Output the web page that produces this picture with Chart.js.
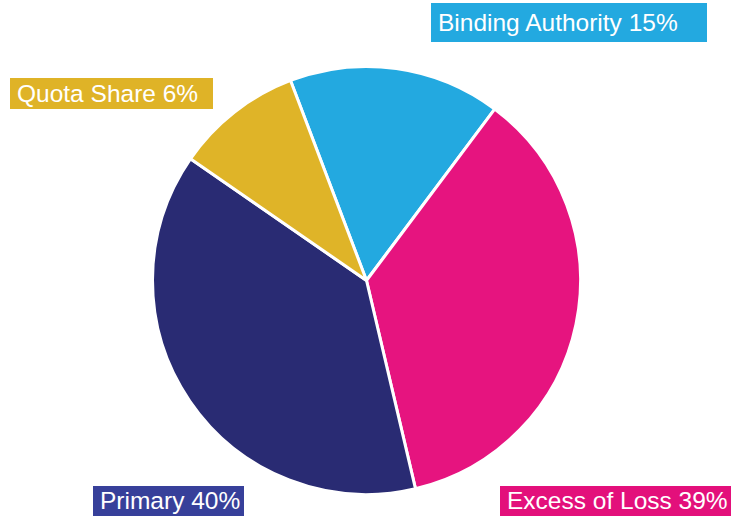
<!DOCTYPE html>
<html>
<head>
<meta charset="utf-8">
<script src="https://cdn.jsdelivr.net/npm/chart.js@4"></script>
<style>
    html, body { margin: 0; padding: 0; background: #ffffff; }
    #conteneur { position: relative; width: 734px; height: 516px; overflow: hidden; }
    #graphique { position: absolute; left: 0; top: 0; }
    .etiquette {
        position: absolute;
        box-sizing: border-box;
        color: #ffffff;
        font-family: "Liberation Sans", Arial, sans-serif;
        font-size: 24.5px;
        padding-left: 7px;
        white-space: nowrap;
        display: flex;
        align-items: center;
    }
</style>
</head>
<body>
<div id="conteneur">
    <canvas id="graphique" width="734" height="516"></canvas>
</div>
<script>
// Segments, dans l'ordre horaire à partir de "Binding Authority"
const categories = ["Binding Authority", "Excess of Loss", "Primary", "Quota Share"]
// Pourcentages affichés sur les étiquettes
const pourcentages = [15, 39, 40, 6]
// Tailles des parts telles que dessinées sur l'image (en %)
const tailles = [16.0, 36.1, 38.3, 9.6]
const couleurs = ["#23a9e0", "#e6147f", "#292b73", "#dfb428"]
const couleursEtiquettes = ["#23a9e0", "#e3107b", "#37409a", "#dfb327"]

// Position des étiquettes (gauche, haut, largeur, hauteur)
const boites = [
    [431, 3, 276, 39],
    [500, 486, 231, 30],
    [93, 486, 151, 30],
    [10, 78, 203, 31],
]

const conteneur = document.querySelector("#conteneur")
for (let i = 0; i < categories.length; i++) {
    const div = document.createElement("div")
    div.className = "etiquette"
    div.textContent = `${categories[i]} ${pourcentages[i]}%`
    div.style.left = boites[i][0] + "px"
    div.style.top = boites[i][1] + "px"
    div.style.width = boites[i][2] + "px"
    div.style.height = boites[i][3] + "px"
    div.style.background = couleursEtiquettes[i]
    conteneur.appendChild(div)
}

const data = {
    labels: categories,
    datasets: [{
        data: tailles,
        backgroundColor: couleurs,
        borderColor: "#ffffff",
        borderWidth: 3,
    }],
}

const config = {
    type: "pie",
    data: data,
    options: {
        responsive: false,
        animation: false,
        rotation: -20.8,
        layout: {
            padding: {left: 151, right: 152, top: 65, bottom: 20},
        },
        plugins: {
            legend: {display: false},
            tooltip: {enabled: false},
        },
    },
}

// eslint-disable-next-line no-undef
const graphique = new Chart(document.querySelector("#graphique"), config)
</script>
</body>
</html>
